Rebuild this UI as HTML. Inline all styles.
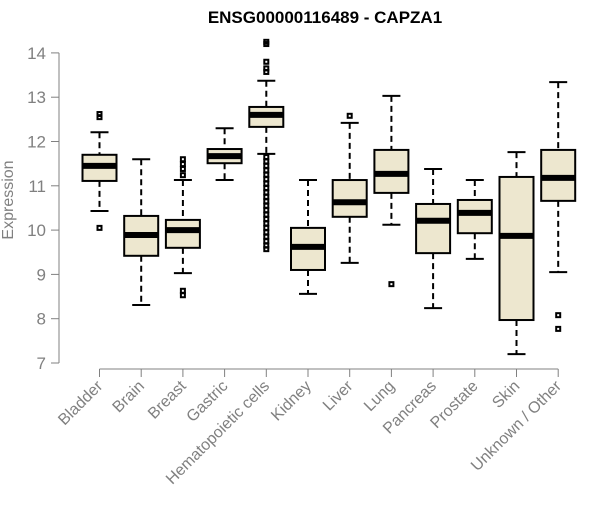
<!DOCTYPE html>
<html><head><meta charset="utf-8"><style>
body{margin:0;background:#fff}
svg text{font-family:"Liberation Sans",sans-serif}
</style></head><body>
<svg id="chart" width="600" height="500">
<text x="325" y="23" text-anchor="middle" font-weight="bold" font-size="17">ENSG00000116489 - CAPZA1</text>
<text transform="translate(13,200) rotate(-90)" text-anchor="middle" font-size="16" fill="#808080">Expression</text>
<g id="axes"></g><g id="boxes"></g>
</svg>
<script>
const categories=["Bladder","Brain","Breast","Gastric","Hematopoietic cells","Kidney","Liver","Lung","Pancreas","Prostate","Skin","Unknown / Other"];
const whiskerHigh=[12.21,11.6,11.13,12.3,13.37,11.13,12.42,13.03,11.38,11.13,11.76,13.34];
const q3=[11.7,10.32,10.23,11.83,12.78,10.05,11.13,11.81,10.59,10.68,11.2,11.81];
const medians=[11.45,9.89,10.0,11.67,12.6,9.62,10.63,11.27,10.21,10.39,9.87,11.18];
const q1=[11.11,9.42,9.6,11.51,12.33,9.1,10.3,10.84,9.48,9.93,7.97,10.66];
const whiskerLow=[10.43,8.31,9.03,11.13,11.72,8.56,9.26,10.12,8.24,9.35,7.2,9.05];
const outliers=[[12.62,12.55,10.05],[],[11.6,11.49,11.38,11.24,8.63,8.53],[],
[14.25,14.2,13.8,13.65,13.57,11.65,11.55,11.45,11.35,11.25,11.15,11.05,10.95,10.85,10.75,10.65,10.55,10.45,10.35,10.25,10.15,10.05,9.95,9.85,9.75,9.65,9.57],
[],[12.58],[8.78],[],[],[],[8.08,7.77]];
const yTicks=[7,8,9,10,11,12,13,14];
const NS="http://www.w3.org/2000/svg";
const y=v=>363-(v-7)*44.3;
const x=i=>99.5+i*41.7;
function mk(t,a,p){const e=document.createElementNS(NS,t);for(const k in a)e.setAttribute(k,a[k]);p.appendChild(e);return e;}
const ax=document.getElementById('axes'),bx=document.getElementById('boxes');
let l=mk('line',{x1:59,x2:59,y1:y(14),y2:y(7),stroke:'#808080'},ax);


yTicks.forEach(t=>{
 const tk=mk('line',{x1:51,x2:59,y1:y(t),y2:y(t),stroke:'#808080'},ax);
 
 
 const tx=mk('text',{x:46,y:y(t)+6,'text-anchor':'end','font-size':17,fill:'#808080'},ax);tx.textContent=t;
 
 
});
l=mk('line',{x1:x(0),x2:x(11),y1:369,y2:369,stroke:'#808080'},ax);


categories.forEach((c,i)=>{
 const tk=mk('line',{x1:x(i),x2:x(i),y1:369,y2:377,stroke:'#808080'},ax);
 
 
 const tx=mk('text',{transform:`translate(${x(i)+4},387) rotate(-45)`,'text-anchor':'end','font-size':16,fill:'#808080'},ax);tx.textContent=c;
 
 
 const g=mk('g',{},bx);
 
 
 const cx=x(i),w=17,cw=9;
 mk('line',{x1:cx,x2:cx,y1:y(whiskerHigh[i]),y2:y(q3[i]),stroke:'#000','stroke-width':2,'stroke-dasharray':'6,4'},g);
 mk('line',{x1:cx,x2:cx,y1:y(q1[i]),y2:y(whiskerLow[i]),stroke:'#000','stroke-width':2,'stroke-dasharray':'6,4'},g);
 mk('line',{x1:cx-cw,x2:cx+cw,y1:y(whiskerHigh[i]),y2:y(whiskerHigh[i]),stroke:'#000','stroke-width':2},g);
 mk('line',{x1:cx-cw,x2:cx+cw,y1:y(whiskerLow[i]),y2:y(whiskerLow[i]),stroke:'#000','stroke-width':2},g);
 mk('rect',{x:cx-w,y:y(q3[i]),width:2*w,height:y(q1[i])-y(q3[i]),fill:'#ede7cf',stroke:'#000','stroke-width':2},g);
 mk('line',{x1:cx-w,x2:cx+w,y1:y(medians[i]),y2:y(medians[i]),stroke:'#000','stroke-width':6},g);
 outliers[i].forEach(o=>{
  const p=mk('rect',{x:cx-2,y:y(o)-2,width:4,height:4,fill:'none',stroke:'#000','stroke-width':2},g);
  
  
 });
});
</script>
</body></html>
